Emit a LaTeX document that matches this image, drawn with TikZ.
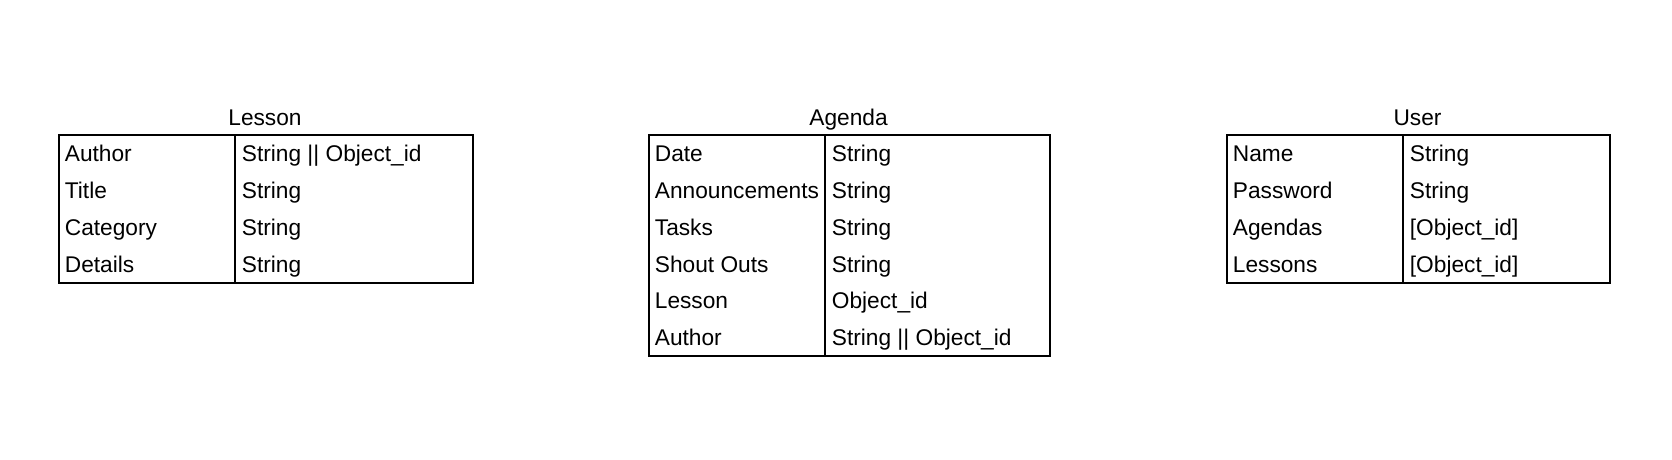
\documentclass[tikz,border=0pt]{standalone}
\usepackage{fontspec}
\setmainfont{Liberation Sans}
\usetikzlibrary{positioning}

\begin{document}
\begin{tikzpicture}[x=0.5pt,y=-0.5pt,
  table box/.style={draw,line width=1pt,inner sep=0pt,anchor=north west},
  table title/.style={inner sep=0pt,anchor=base,font=\fontsize{11.35}{13.6}\selectfont},
  cell/.style={inner sep=0pt,anchor=base west,font=\fontsize{11.35}{13.6}\selectfont}]

  \useasboundingbox (0,0) rectangle (1672,460);

  % Lesson
  \node[table box, minimum width=207pt, minimum height=73.5pt] (lesson) at (58,134.5) {};
  \node[table title] (lesson title) at (265,125.5) {Lesson};
  \draw[line width=1pt] (lesson.north -| 235,0) -- (lesson.south -| 235,0);
  \foreach \k/\v [count=\i] in {Author/{String || Object\_id}, Title/String, Category/String, Details/String}{
    \node[cell] (lesson key \i) at (64.5,{134.5+36.75*(\i-0.5)+9}) {\k};
    \node[cell] (lesson val \i) at (241.5,{134.5+36.75*(\i-0.5)+9}) {\v};
  }

  % Agenda
  \node[table box, minimum width=200.5pt, minimum height=110.25pt] (agenda) at (648,134.5) {};
  \node[table title] (agenda title) at (848.5,125.5) {Agenda};
  \draw[line width=1pt] (agenda.north -| 825,0) -- (agenda.south -| 825,0);
  \foreach \k/\v [count=\i] in {Date/String, Announcements/String, Tasks/String, Shout Outs/String, Lesson/Object\_id, Author/{String || Object\_id}}{
    \node[cell] (agenda key \i) at (654.5,{134.5+36.75*(\i-0.5)+9}) {\k};
    \node[cell] (agenda val \i) at (831.5,{134.5+36.75*(\i-0.5)+9}) {\v};
  }

  % User
  \node[table box, minimum width=191.5pt, minimum height=73.5pt] (user) at (1226,134.5) {};
  \node[table title] (user title) at (1417.5,125.5) {User};
  \draw[line width=1pt] (user.north -| 1403,0) -- (user.south -| 1403,0);
  \foreach \k/\v [count=\i] in {Name/String, Password/String, Agendas/{[Object\_id]}, Lessons/{[Object\_id]}}{
    \node[cell] (user key \i) at (1232.5,{134.5+36.75*(\i-0.5)+9}) {\k};
    \node[cell] (user val \i) at (1409.5,{134.5+36.75*(\i-0.5)+9}) {\v};
  }
\end{tikzpicture}
\end{document}
